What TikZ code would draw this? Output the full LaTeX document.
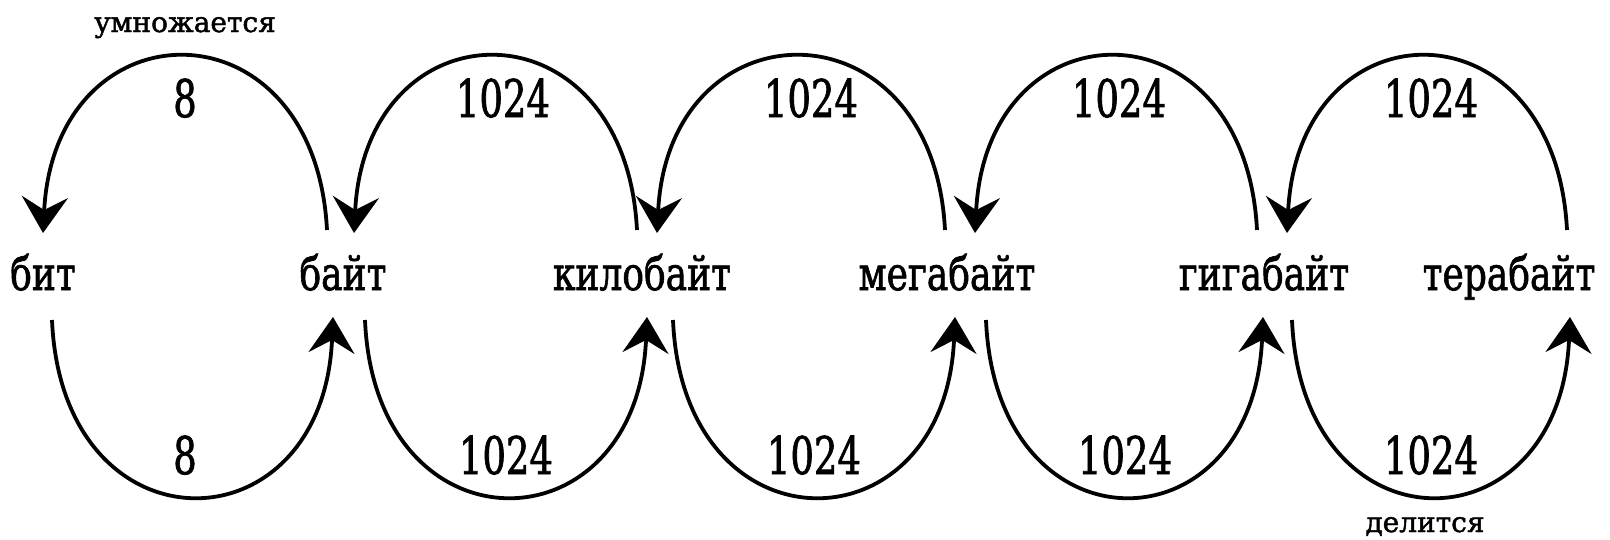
\documentclass[tikz,border=0pt]{standalone}
\usepackage{fontspec}
\usepackage{graphicx}
\setmainfont{DejaVu Serif}[FakeBold=1.6]
\usetikzlibrary{arrows.meta}
\newcommand\tallw[1]{\scalebox{1}[1.3]{#1}}
\newcommand\talln[1]{\scalebox{1}[1.4]{#1}}
\tikzset{
  word/.style={font=\fontsize{36}{40}\selectfont, inner sep=0pt, anchor=base},
  num/.style={font=\fontsize{37}{40}\selectfont, inner sep=0pt, anchor=base},
  small/.style={font=\fontsize{28}{30}\selectfont, inner sep=0pt, anchor=base},
  conv/.style={line width=3.8pt, -{Stealth[length=36pt,width=46pt,inset=13pt]}},
}
\begin{document}
\begin{tikzpicture}[x=1pt,y=-1pt]
\useasboundingbox (0,0) rectangle (1610,539);
% units
\node[word] (b0) at (43,290)   {\tallw{бит}};
\node[word] (b1) at (343,290)  {\tallw{байт}};
\node[word] (b2) at (642,290)  {\tallw{килобайт}};
\node[word] (b3) at (947,290)  {\tallw{мегабайт}};
\node[word] (b4) at (1264,290) {\tallw{гигабайт}};
\node[word] (b5) at (1509,290) {\tallw{терабайт}};
% top arcs (multiply): from right unit to left unit
\draw[conv] ([xshift=-16pt,yshift=60pt]b1.base) .. controls +(-12,-232) and +(12,-232) .. ([xshift=0pt,yshift=57pt]b0.base);
\draw[conv] ([xshift=-5pt,yshift=60pt]b2.base) .. controls +(-12,-232) and +(12,-232) .. ([xshift=11pt,yshift=57pt]b1.base);
\draw[conv] ([xshift=-2pt,yshift=60pt]b3.base) .. controls +(-12,-232) and +(12,-232) .. ([xshift=15pt,yshift=57pt]b2.base);
\draw[conv] ([xshift=-7pt,yshift=60pt]b4.base) .. controls +(-12,-232) and +(12,-232) .. ([xshift=28pt,yshift=57pt]b3.base);
\draw[conv] ([xshift=58pt,yshift=60pt]b5.base) .. controls +(-12,-232) and +(12,-232) .. ([xshift=23pt,yshift=57pt]b4.base);
% bottom arcs (divide): from left unit to right unit
\draw[conv] ([xshift=9pt,yshift=-30pt]b0.base) .. controls +(10,236) and +(-10,236) .. ([xshift=-10pt,yshift=-27pt]b1.base);
\draw[conv] ([xshift=22pt,yshift=-30pt]b1.base) .. controls +(10,236) and +(-10,236) .. ([xshift=5pt,yshift=-27pt]b2.base);
\draw[conv] ([xshift=31pt,yshift=-30pt]b2.base) .. controls +(10,236) and +(-10,236) .. ([xshift=8pt,yshift=-27pt]b3.base);
\draw[conv] ([xshift=39pt,yshift=-30pt]b3.base) .. controls +(10,236) and +(-10,236) .. ([xshift=-1pt,yshift=-27pt]b4.base);
\draw[conv] ([xshift=28pt,yshift=-30pt]b4.base) .. controls +(10,236) and +(-10,236) .. ([xshift=61pt,yshift=-27pt]b5.base);
% labels
\node[num] (t1) at (185,117)  {\talln{8}};
\node[num] (t2) at (503,117)  {\talln{1024}};
\node[num] (t3) at (811,117)  {\talln{1024}};
\node[num] (t4) at (1119,117) {\talln{1024}};
\node[num] (t5) at (1431,117) {\talln{1024}};
\node[num] (d1) at (185,474)  {\talln{8}};
\node[num] (d2) at (506,474)  {\talln{1024}};
\node[num] (d3) at (814,474)  {\talln{1024}};
\node[num] (d4) at (1125,474) {\talln{1024}};
\node[num] (d5) at (1431,474) {\talln{1024}};
\node[small] (mul) at (185,32) {умножается};
\node[small] (div) at (1425,532) {делится};
\end{tikzpicture}
\end{document}
